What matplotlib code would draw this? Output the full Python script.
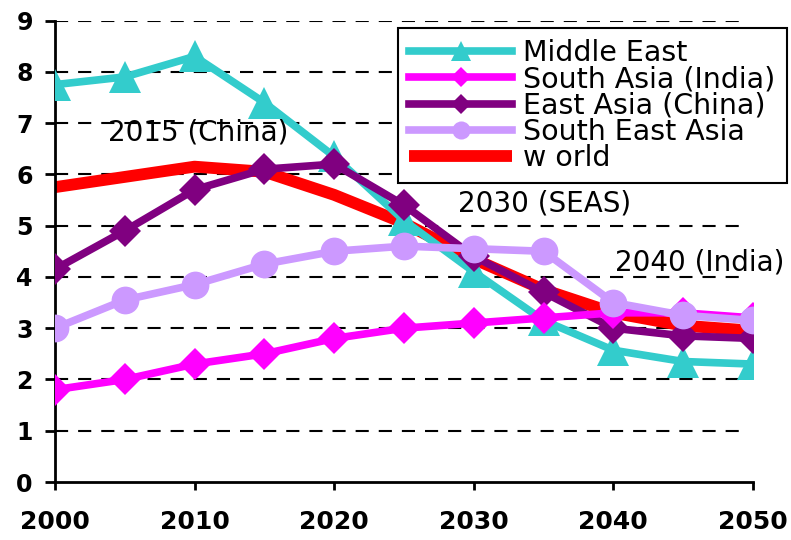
import matplotlib.pyplot as plt

years = [2000, 2005, 2010, 2015, 2020, 2025, 2030, 2035, 2040, 2045, 2050]

middle_east = [7.75, 7.9, 8.3, 7.4, 6.35, 5.1, 4.1, 3.15, 2.57, 2.35, 2.3]
south_asia = [1.8, 2.0, 2.3, 2.5, 2.8, 3.0, 3.1, 3.2, 3.3, 3.3, 3.2]
east_asia = [4.15, 4.9, 5.7, 6.1, 6.2, 5.4, 4.4, 3.7, 3.0, 2.85, 2.8]
se_asia = [3.0, 3.55, 3.85, 4.25, 4.5, 4.6, 4.55, 4.5, 3.5, 3.25, 3.15]
world = [5.75, 5.95, 6.15, 6.05, 5.6, 5.05, 4.35, 3.75, 3.3, 3.05, 2.95]

notes = [("2015 (China)", 2003.8, 6.82),
         ("2030 (SEAS)", 2028.9, 5.44),
         ("2040 (India)", 2040.1, 4.29)]

fig = plt.figure(figsize=(7.91, 5.40), dpi=100)
ax = fig.add_axes([0.0695, 0.1074, 0.8824, 0.8546])

ax.plot(years, world, color='#FF0000', lw=8.5, solid_capstyle='butt',
        label='w orld', zorder=2)
ax.plot(years, middle_east, color='#33CCCC', lw=5.5, marker='^', ms=23,
        mew=0, label='Middle East', zorder=3)
ax.plot(years, east_asia, color='#800080', lw=5.5, marker='D', ms=16,
        mew=0, label='East Asia (China)', zorder=4)
ax.plot(years, south_asia, color='#FF00FF', lw=5.5, marker='D', ms=16,
        mew=0, label='South Asia (India)', zorder=5)
ax.plot(years, se_asia, color='#CC99FF', lw=5.5, marker='o', ms=20,
        mew=0, label='South East Asia', zorder=6)

ax.set_xlim(2000, 2050)
ax.set_ylim(0, 9)
ax.set_xticks([2000, 2010, 2020, 2030, 2040, 2050])
ax.set_yticks(range(10))

for v in range(1, 10):
    ax.axhline(v, color='black', lw=1.5, ls=(0, (6.3, 4.8)), zorder=1,
               xmax=0.993)

ax.spines['top'].set_visible(False)
ax.spines['right'].set_visible(False)
for s in ('left', 'bottom'):
    ax.spines[s].set_linewidth(2)

ax.tick_params(axis='y', direction='out', length=7, width=2, pad=9,
               labelsize=17)
ax.tick_params(axis='x', direction='out', length=6, width=2, pad=14,
               labelsize=18)
for lab in ax.get_xticklabels() + ax.get_yticklabels():
    lab.set_fontweight('bold')

for txt, x, y in notes:
    ax.text(x, y, txt, fontsize=20, ha='left', va='center', zorder=7)

# legend sits half outside the plot area, like the original
handles, labels = ax.get_legend_handles_labels()
order = ['Middle East', 'South Asia (India)', 'East Asia (China)',
         'South East Asia', 'w orld']
hl = dict(zip(labels, handles))
leg = fig.legend([hl[k] for k in order], order,
                 loc='upper left', bbox_to_anchor=(0.503, 0.949),
                 borderaxespad=0, fontsize=20.5, markerscale=0.65,
                 handlelength=3.6, handletextpad=0.4, labelspacing=-0.06,
                 borderpad=0.4, fancybox=False, framealpha=1,
                 edgecolor='black')
leg.get_frame().set_linewidth(1.5)

fig.savefig('out.png', dpi=100)
